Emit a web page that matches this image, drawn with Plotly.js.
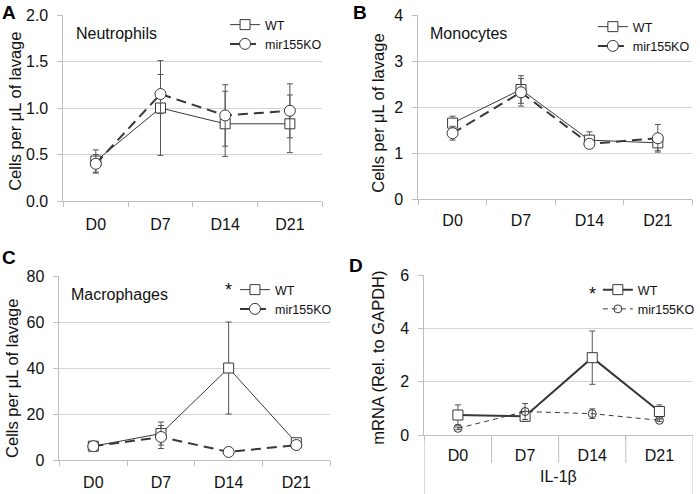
<!DOCTYPE html>
<html><head><meta charset="utf-8">
<script src="https://cdn.plot.ly/plotly-3.0.1.min.js"></script>
<style>html,body{margin:0;padding:0;background:#fff}#chart{width:700px;height:494px}</style>
</head><body><div id="chart"></div>
<script>
const days = ["D0", "D7", "D14", "D21"];
const seriesNames = ["WT", "mir155KO"];

const neutroWT = [0.43, 1.00, 0.83, 0.83];
const neutroWTErr = [0.12, 0.51, 0.35, 0.31];
const neutroKO = [0.40, 1.15, 0.92, 0.97];
const neutroKOErr = [0.10, 0.21, 0.33, 0.29];

const monoWT = [1.65, 2.38, 1.28, 1.22];
const monoWTErr = [0.15, 0.30, 0.18, 0.17];
const monoKO = [1.43, 2.32, 1.20, 1.32];
const monoKOErr = [0.15, 0.30, 0.10, 0.30];

const macroWT = [6, 11.5, 40, 7.5];
const macroWTErr = [1, 5, 20, 1.5];
const macroKO = [6, 10, 3.5, 6.5];
const macroKOErr = [1, 5, 0.8, 1];

const il1bWT = [0.75, 0.70, 2.90, 0.88];
const il1bWTErr = [0.38, 0.18, 1.0, 0.25];
const il1bKO = [0.25, 0.88, 0.80, 0.55];
const il1bKOErr = [0.05, 0.30, 0.18, 0.05];

const panelTitles = ["Neutrophils", "Monocytes", "Macrophages"];
const yTitles = ["Cells per μL of lavage", "mRNA (Rel. to GAPDH)"];
const geneLabel = "IL-1β";
const sigStar = "*";
const sigC = {x: "D14", y: 74};
const sigD = {x: "D14", y: 5.3};

const FONT = "Liberation Sans, Arial, sans-serif";
const LINE = "#383838";
const ERR = "#555555";

function tr(x, y, err, opt) {
  return Object.assign({
    type: "scatter", mode: "lines+markers", x: x, y: y,
    error_y: {type: "data", array: err, visible: true, color: ERR, thickness: 1, width: 3},
    cliponaxis: false
  }, opt);
}
function wt(y, err, ax, leg, lw) {
  return tr(days, y, err, {name: seriesNames[0], xaxis: "x" + ax, yaxis: "y" + ax, legend: leg,
    line: {color: LINE, width: lw || 1},
    marker: {symbol: "square", size: 10, color: "#ffffff", line: {color: LINE, width: 1}}});
}
function ko(y, err, ax, leg, lw, dash, msize) {
  return tr(days, y, err, {name: seriesNames[1], xaxis: "x" + ax, yaxis: "y" + ax, legend: leg,
    line: {color: LINE, width: lw, dash: dash},
    marker: {symbol: "circle", size: msize || 11, color: "#ffffff", line: {color: LINE, width: 1}}});
}

const data = [
  wt(neutroWT, neutroWTErr, "", "legend", 1),
  ko(neutroKO, neutroKOErr, "", "legend", 2, "10px,6px"),
  wt(monoWT, monoWTErr, "2", "legend2", 1),
  ko(monoKO, monoKOErr, "2", "legend2", 2, "10px,6px"),
  wt(macroWT, macroWTErr, "3", "legend3", 1),
  ko(macroKO, macroKOErr, "3", "legend3", 2, "10px,6px"),
  wt(il1bWT, il1bWTErr, "4", "legend4", 2),
  Object.assign(ko(il1bKO, il1bKOErr, "4", "legend4", 1, "5px,4px", 8),
    {marker: {symbol: "circle-open", size: 8, color: LINE, line: {color: LINE, width: 1}}})
];

const H = 494, W = 700;
function py(px) { return 1 - px / H; }
function px(p) { return p / W; }

function xax(dom, anchor, stand) {
  return {domain: dom, anchor: anchor, type: "category", range: [-0.5, 3.5], autorange: false,
    tickson: "boundaries", ticks: "outside",
    ticklen: 5, tickcolor: "#bfbfbf", showline: true, linecolor: "#bfbfbf", linewidth: 1,
    showgrid: false, zeroline: false, ticklabelstandoff: stand,
    tickfont: {family: FONT, size: 16, color: "#111"}, fixedrange: true};
}
function yax(dom, anchor, range, dtick, fmt) {
  return {domain: dom, anchor: anchor, range: range, autorange: false, dtick: dtick, tick0: 0, tickformat: fmt,
    ticks: "outside", ticklen: 5, tickcolor: "#bfbfbf", showline: true, linecolor: "#bfbfbf",
    showgrid: true, gridcolor: "#d4d4d4", gridwidth: 1, zeroline: false, ticklabelstandoff: 6,
    tickfont: {family: FONT, size: 16, color: "#111"}, fixedrange: true};
}
function leg(x, y) {
  return {x: px(x), y: py(y), xanchor: "left", yanchor: "top", bgcolor: "rgba(0,0,0,0)",
    font: {family: FONT, size: 12.5, color: "#111"}, itemwidth: 30, tracegroupgap: 0};
}
function ann(text, x, y, size, opts) {
  return Object.assign({text: text, xref: "paper", yref: "paper", x: px(x), y: py(y),
    xanchor: "center", yanchor: "middle", showarrow: false,
    font: {family: FONT, size: size, color: "#111"}}, opts || {});
}

const sepLine = {color: "#bfbfbf", width: 1};
const letterFont = {family: FONT, size: 19, color: "#000"};

const layout = {
  width: W, height: H, margin: {l: 0, r: 0, t: 0, b: 0},
  paper_bgcolor: "#fff", plot_bgcolor: "#fff", showlegend: true,
  xaxis: xax([px(64), px(325)], "y", 9),
  yaxis: yax([py(201), py(15)], "x", [0, 2], 0.5, ".1f"),
  xaxis2: xax([px(422), px(698)], "y2", 7),
  yaxis2: yax([py(199), py(15)], "x2", [0, 4], 1, "d"),
  xaxis3: xax([px(60), px(333)], "y3", 8),
  yaxis3: yax([py(460), py(276)], "x3", [0, 80], 20, "d"),
  xaxis4: xax([px(428), px(699)], "y4", 6),
  yaxis4: yax([py(435), py(275)], "x4", [0, 6], 2, "d"),
  legend: leg(227, 10),
  legend2: leg(598, 12),
  legend3: leg(237, 275),
  legend4: leg(603, 275),
  shapes: [
    {type: "line", xref: "x4", yref: "paper", x0: 0.5, x1: 0.5, y0: py(435), y1: py(463), line: sepLine},
    {type: "line", xref: "x4", yref: "paper", x0: 1.5, x1: 1.5, y0: py(435), y1: py(463), line: sepLine},
    {type: "line", xref: "x4", yref: "paper", x0: 2.5, x1: 2.5, y0: py(435), y1: py(463), line: sepLine},
    {type: "line", xref: "x4", yref: "paper", x0: -0.5, x1: -0.5, y0: py(435), y1: 0, line: sepLine},
    {type: "line", xref: "x4", yref: "paper", x0: 3.5, x1: 3.5, y0: py(435), y1: 0, line: sepLine}
  ],
  annotations: [
    ann("<b>A</b>", 9, 12, 19, {font: letterFont}),
    ann("<b>B</b>", 363, 12, 19, {font: letterFont}),
    ann("<b>C</b>", 9, 257, 19, {font: letterFont}),
    ann("<b>D</b>", 359, 265, 19, {font: letterFont}),
    ann(yTitles[0], 15, 111, 16.5, {textangle: -90}),
    ann(yTitles[0], 381, 113, 16.5, {textangle: -90}),
    ann(yTitles[0], 12, 378, 16.5, {textangle: -90}),
    ann(yTitles[1], 381, 358, 16.5, {textangle: -90}),
    ann(panelTitles[0], 75, 33, 16, {xanchor: "left"}),
    ann(panelTitles[1], 432, 34, 16, {xanchor: "left"}),
    ann(panelTitles[2], 70, 294, 16, {xanchor: "left"}),
    {text: geneLabel, xref: "x4", yref: "paper", x: 1.5, y: py(476), xanchor: "center", yanchor: "middle",
      showarrow: false, font: {family: FONT, size: 16, color: "#111"}},
    {text: sigStar, xref: "x3", yref: "y3", x: sigC.x, y: sigC.y, xanchor: "center", yanchor: "middle",
      showarrow: false, font: {family: FONT, size: 18, color: "#111"}},
    {text: sigStar, xref: "x4", yref: "y4", x: sigD.x, y: sigD.y, xanchor: "center", yanchor: "middle",
      showarrow: false, font: {family: FONT, size: 18, color: "#111"}}
  ]
};

Plotly.newPlot("chart", data, layout, {displayModeBar: false, staticPlot: true});
</script></body></html>
